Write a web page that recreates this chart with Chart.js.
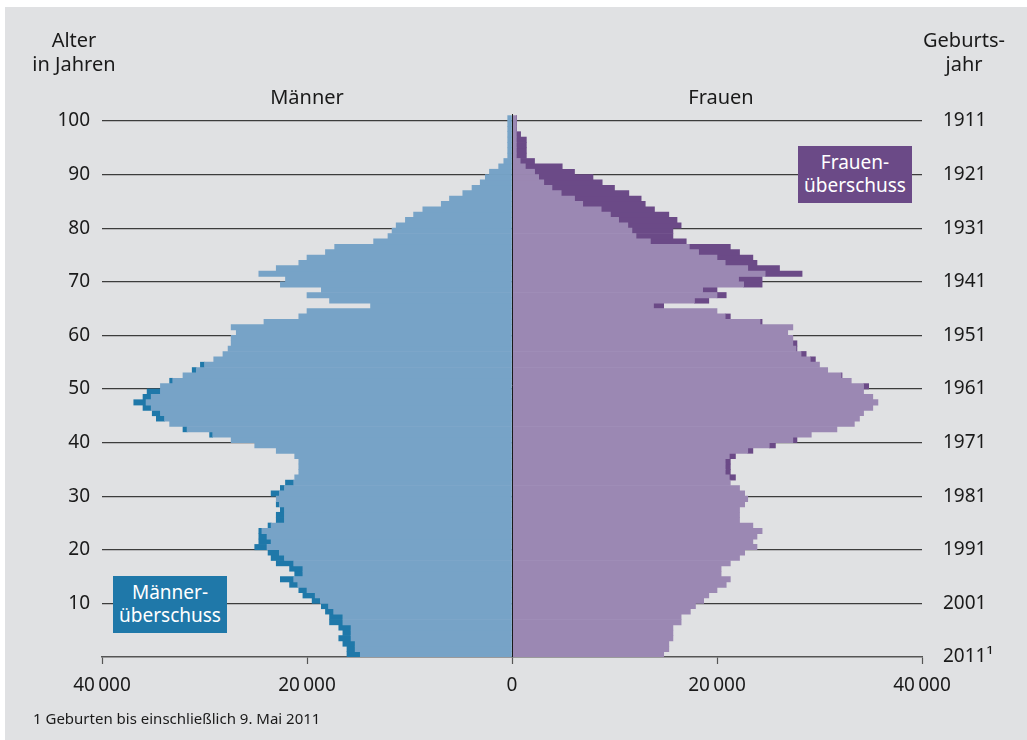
<!DOCTYPE html>
<html lang="de">
<head>
<meta charset="utf-8">
<script src="https://cdn.jsdelivr.net/npm/chart.js@4"></script>
<style>
  html, body { margin: 0; padding: 0; background: #fff; }
  body { width: 1027px; height: 740px; position: relative; overflow: hidden; font-family: "Noto Sans", sans-serif; }
  #panel { position: absolute; left: 5px; top: 7px; right: 0; bottom: 0; background: #e0e1e3; }
  #wrap { position: absolute; left: 0; top: 0; width: 1027px; height: 740px; }
  .txt { position: absolute; color: #1a1a1a; font-size: 20px; line-height: 24px; white-space: nowrap; }
  .box { position: absolute; color: #fff; font-size: 19px; line-height: 23px; text-align: center; padding-top: 5px; box-sizing: border-box; }
</style>
</head>
<body>
<div id="panel"></div>
<div id="wrap"><canvas id="pyramid" width="1027" height="740"></canvas></div>
<div class="txt" style="left:24px; top:28px; width:100px; text-align:center;">Alter<br>in Jahren</div>
<div class="txt" style="left:914px; top:28px; width:100px; text-align:center;">Geburts-<br>jahr</div>
<div class="txt" style="left:257px; top:85px; width:100px; text-align:center;">Männer</div>
<div class="txt" style="left:671px; top:85px; width:100px; text-align:center;">Frauen</div>
<div class="box" style="left:798px; top:146px; width:114px; height:57px; background:#6b4a87;">Frauen-<br>überschuss</div>
<div class="box" style="left:113px; top:576px; width:114px; height:57px; background:#1f78a9;">Männer-<br>überschuss</div>
<div class="txt" style="left:33px; top:708px; font-size:15px; line-height:20px;">1 Geburten bis einschließlich 9. Mai 2011</div>
<script>
// Alter 0 .. 100
const ages = Array.from({ length: 101 }, (_, i) => i);

const men = [
    16100, 16100, 16500, 16900, 16500, 16900, 17800, 17800, 18200, 18600,
    19500, 20400, 20800, 21700, 22600, 21200, 21700, 23000, 23500, 23800,
    25100, 24700, 24700, 24700, 23800, 23000, 23000, 22600, 23000, 23000,
    23500, 22600, 22100, 21200, 20800, 20800, 20800, 21200, 23000, 25100,
    27400, 29500, 32100, 33400, 34700, 35100, 36000, 36900, 36000, 35600,
    34300, 33400, 32100, 31200, 30400, 29100, 28200, 27700, 27400, 27400,
    26900, 27400, 24200, 20800, 20000, 13800, 17800, 20000, 18600, 22600,
    22100, 24700, 23000, 20800, 20000, 18200, 17300, 13500, 12100, 11700,
    11300, 10400, 9600, 8700, 6900, 6100, 4800, 3900, 3100, 2600,
    2200, 1300, 800, 420, 420, 420, 420, 420, 420, 420,
    420
];

const women = [
    14800, 15300, 15300, 15700, 15700, 15700, 16500, 16500, 17400, 17900,
    18700, 19200, 20000, 20900, 21300, 20400, 20400, 21300, 22200, 22700,
    23900, 23500, 23900, 24400, 23500, 22200, 22200, 22200, 22700, 23000,
    22700, 22200, 21300, 21800, 21300, 21300, 21300, 21800, 23500, 25700,
    27800, 29200, 31700, 33400, 33900, 34300, 35200, 35700, 35200, 34300,
    34800, 33100, 32200, 30800, 30000, 29600, 28700, 27800, 27800, 27400,
    26900, 27400, 24400, 21300, 20000, 14800, 19200, 20900, 20000, 24400,
    24400, 28300, 26100, 23900, 23500, 22200, 21300, 17000, 15700, 15700,
    16500, 16100, 15300, 13900, 13000, 12600, 11400, 10000, 8800, 7900,
    6100, 4900, 2200, 1400, 1400, 1400, 1400, 840, 450, 450,
    450
];

const ageTicks = [0, 10, 20, 30, 40, 50, 60, 70, 80, 90, 100];
const xTicks = [-40000, -20000, 0, 20000, 40000];
const censusYear = 2011;

const colors = {
    men: '#77a3c7',
    menSurplus: '#1f78a9',
    women: '#9b88b3',
    womenSurplus: '#6b4a87'
};

const pt = (v, i) => ({ x: v, y: ages[i] + 0.5 });
const menBase = men.map((m, i) => pt(-Math.min(m, women[i]), i));
const menExtra = men.map((m, i) => m > women[i] ? pt(-(m - women[i]), i) : pt(null, i));
const womenBase = women.map((w, i) => pt(Math.min(w, men[i]), i));
const womenExtra = women.map((w, i) => w > men[i] ? pt(w - men[i], i) : pt(null, i));

const fmt = (v) => {
    const s = String(Math.abs(v));
    return s.length > 3 ? s.slice(0, -3) + '\u202f' + s.slice(-3) : s;
};

const setTicks = (scale) => { scale.ticks = ageTicks.map((v) => ({ value: v })); };

const zeroLine = {
    id: 'zeroLine',
    afterDatasetsDraw(chart) {
        const { ctx, scales } = chart;
        const x = Math.round(scales.x.getPixelForValue(0)) + 0.5;
        ctx.save();
        ctx.strokeStyle = '#1a1a1a';
        ctx.lineWidth = 1;
        ctx.beginPath();
        ctx.moveTo(x, scales.y.top);
        ctx.lineTo(x, scales.y.bottom);
        ctx.stroke();
        ctx.restore();
    }
};

const ds = (label, data, color) => ({
    label: label,
    data: data,
    backgroundColor: color,
    borderWidth: 0,
    barPercentage: 1,
    categoryPercentage: 1,
    stack: 'p'
});

new Chart(document.getElementById('pyramid'), {
    type: 'bar',
    data: {
        datasets: [
            ds('Männer', menBase, colors.men),
            ds('Männerüberschuss', menExtra, colors.menSurplus),
            ds('Frauen', womenBase, colors.women),
            ds('Frauenüberschuss', womenExtra, colors.womenSurplus)
        ]
    },
    options: {
        indexAxis: 'y',
        responsive: false,
        animation: false,
        layout: { padding: { left: 22, right: 5, top: 114, bottom: 0 } },
        plugins: {
            legend: { display: false },
            tooltip: { enabled: false }
        },
        scales: {
            x: {
                type: 'linear',
                stacked: true,
                min: -40000,
                max: 40000,
                afterBuildTicks: (scale) => { scale.ticks = xTicks.map((v) => ({ value: v })); },
                afterFit: (scale) => { scale.height = 83; },
                border: { display: true, color: '#555', width: 1.5 },
                grid: { drawOnChartArea: false, drawTicks: true, tickLength: 7, tickColor: '#555', tickWidth: 1.2 },
                ticks: {
                    color: '#1a1a1a',
                    font: { family: 'Noto Sans', size: 19 },
                    padding: 10,
                    maxRotation: 0,
                    callback: (v) => fmt(v)
                }
            },
            y: {
                type: 'linear',
                position: 'left',
                stacked: true,
                offset: false,
                min: 0,
                max: 101.3,
                afterBuildTicks: setTicks,
                afterFit: (scale) => { scale.width = 80; },
                border: { display: false },
                grid: {
                    offset: false,
                    drawTicks: false,
                    color: (c) => c.tick && c.tick.value === 0 ? 'rgba(0,0,0,0)' : '#3c3c3c',
                    lineWidth: 1.2
                },
                ticks: {
                    color: '#1a1a1a',
                    font: { family: 'Noto Sans', size: 19 },
                    padding: 12,
                    callback: (v) => v === 0 ? '' : String(v)
                }
            },
            y2: {
                type: 'linear',
                position: 'right',
                offset: false,
                min: 0,
                max: 101.3,
                afterBuildTicks: setTicks,
                afterFit: (scale) => { scale.width = 100; },
                border: { display: false },
                grid: { offset: false, drawOnChartArea: false, drawTicks: false },
                ticks: {
                    color: '#1a1a1a',
                    font: { family: 'Noto Sans', size: 19 },
                    padding: 21,
                    callback: (v) => v === 0 ? censusYear + '\u00b9' : String(censusYear - v)
                }
            }
        }
    },
    plugins: [zeroLine]
});
</script>
</body>
</html>
